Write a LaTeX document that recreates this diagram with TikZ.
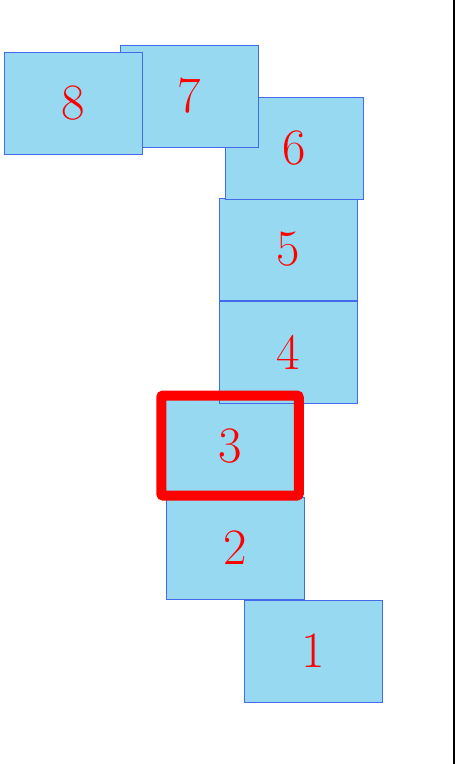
\documentclass[tikz,border=0pt]{standalone}
\usepackage{tikz}
\usetikzlibrary{positioning}
\definecolor{boxfill}{RGB}{151,217,240}
\definecolor{boxline}{RGB}{66,106,235}
\definecolor{numred}{RGB}{255,0,0}

\begin{document}
\begin{tikzpicture}[
    x=1pt, y=-1pt,
    card/.style={rectangle, draw=boxline, line width=1pt, fill=boxfill, minimum width=138pt, minimum height=102pt, inner sep=0pt, text=numred, font=\fontsize{51}{51}\selectfont},
    selframe/.style={rectangle, draw=numred, line width=10pt, rounded corners=2pt, minimum width=137.5pt, minimum height=100pt, inner sep=0pt}
]
\useasboundingbox (0,0) rectangle (455,764);

% Stacked cards, bottom to top
\node[card] (n1) at (313,651) {1};
\node[card] (n2) at (235,548) {2};
\node[card] (n3) at (230,446) {3};
\node[card] (n4) at (288.5,352) {4};
\node[card] (n5) at (288.5,249.5) {5};
\node[card] (n6) at (294,148) {6};
\node[card] (n7) at (189.5,96) {7};
\node[card] (n8) at (73,103) {8};

% Current card
\node[selframe] (sel) at (230,445.5) {};

% Right border
\coordinate (edgetop) at (454,0);
\coordinate (edgebot) at (454,764);
\draw[line width=2pt] (edgetop) -- (edgebot);

\end{tikzpicture}
\end{document}
